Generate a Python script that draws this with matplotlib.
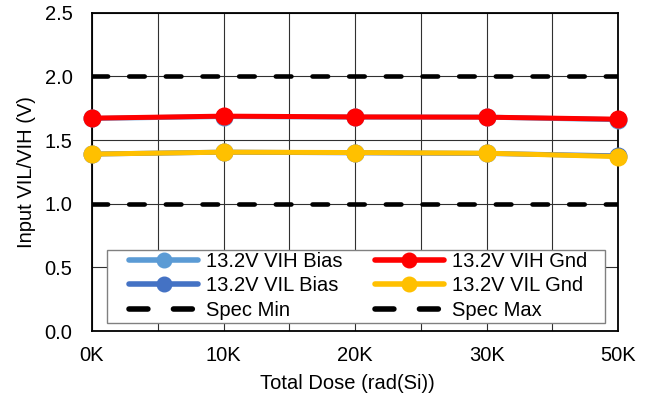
import numpy as np
import matplotlib
matplotlib.use("Agg")
import matplotlib.pyplot as plt
from matplotlib.ticker import MultipleLocator
from matplotlib.patches import Rectangle

plt.rcParams['font.family'] = ['Liberation Sans', 'DejaVu Sans']

# dados do ensaio de dose total
categorias = ['0K', '10K', '20K', '30K', '50K']
vih_bias = [1.670, 1.685, 1.680, 1.680, 1.660]
vil_bias = [1.390, 1.405, 1.400, 1.395, 1.376]
vih_gnd = [1.672, 1.688, 1.682, 1.680, 1.664]
vil_gnd = [1.390, 1.405, 1.402, 1.397, 1.370]
spec_min = [1.0, 1.0, 1.0, 1.0, 1.0]
spec_max = [2.0, 2.0, 2.0, 2.0, 2.0]

x = np.arange(len(categorias))

fig = plt.figure(figsize=(6.5, 3.99), dpi=100)
ax = fig.add_axes([0.1415, 0.1704, 0.8095, 0.7976])

fonte = 14.5
estilo = dict(lw=3.6, marker='o', markersize=12, solid_capstyle='round', clip_on=False)

l1, = ax.plot(x, vih_bias, color='#5B9BD5', label='13.2V VIH Bias', zorder=3, **estilo)
l2, = ax.plot(x, vil_bias, color='#4472C4', label='13.2V VIL Bias', zorder=3, **estilo)
l4, = ax.plot(x, vih_gnd, color='#FF0000', label='13.2V VIH Gnd', zorder=4, **estilo)
l5, = ax.plot(x, vil_gnd, color='#FFC000', label='13.2V VIL Gnd', zorder=4, **estilo)
l3, = ax.plot(x, spec_min, color='black', lw=3.3, dashes=(3.4, 4.6),
              dash_capstyle='round', label='Spec Min', zorder=3)
l6, = ax.plot(x, spec_max, color='black', lw=3.3, dashes=(3.4, 4.6),
              dash_capstyle='round', label='Spec Max', zorder=3)

ax.set_xlim(0, len(categorias) - 1)
ax.set_ylim(0, 2.5)
ax.set_xticks(x)
ax.set_xticklabels(categorias)
ax.xaxis.set_minor_locator(MultipleLocator(0.5))
ax.yaxis.set_major_locator(MultipleLocator(0.5))
ax.yaxis.set_major_formatter(plt.FuncFormatter(lambda v, p: f'{v:.1f}'))

# grade fina em todas as divisoes
ax.grid(True, which='both', axis='x', color='#303030', lw=0.8, zorder=1)
ax.grid(True, which='major', axis='y', color='#303030', lw=0.8, zorder=1)
ax.set_axisbelow(True)

ax.tick_params(axis='both', which='both', length=0, labelsize=fonte)
ax.tick_params(axis='x', pad=11)
ax.tick_params(axis='y', pad=14)

for s in ax.spines.values():
    s.set_linewidth(1.3)
    s.set_color('black')

ax.set_xlabel('Total Dose (rad(Si))', fontsize=fonte, labelpad=6, x=0.485)
ax.set_ylabel('Input VIL/VIH (V)', fontsize=fonte, labelpad=6)

# moldura da legenda desenhada a parte
moldura = Rectangle((0.0285, 0.026), 0.9465, 0.229, transform=ax.transAxes,
                    facecolor='white', edgecolor='#808080', lw=1.0, zorder=5)
ax.add_patch(moldura)

leg = ax.legend(handles=[l1, l2, l3, l4, l5, l6], ncol=2, fontsize=fonte,
                loc='upper left', bbox_to_anchor=(0.0703, 0.2486),
                frameon=False, handlelength=3.43, handletextpad=0.4,
                labelspacing=0.27, borderpad=0, borderaxespad=0, columnspacing=1.6)
for h in leg.legend_handles:
    h.set_linewidth(4.0)
    h.set_markersize(10.5)
leg.set_zorder(6)

plt.savefig('out.png', dpi=100)
plt.close('all')
